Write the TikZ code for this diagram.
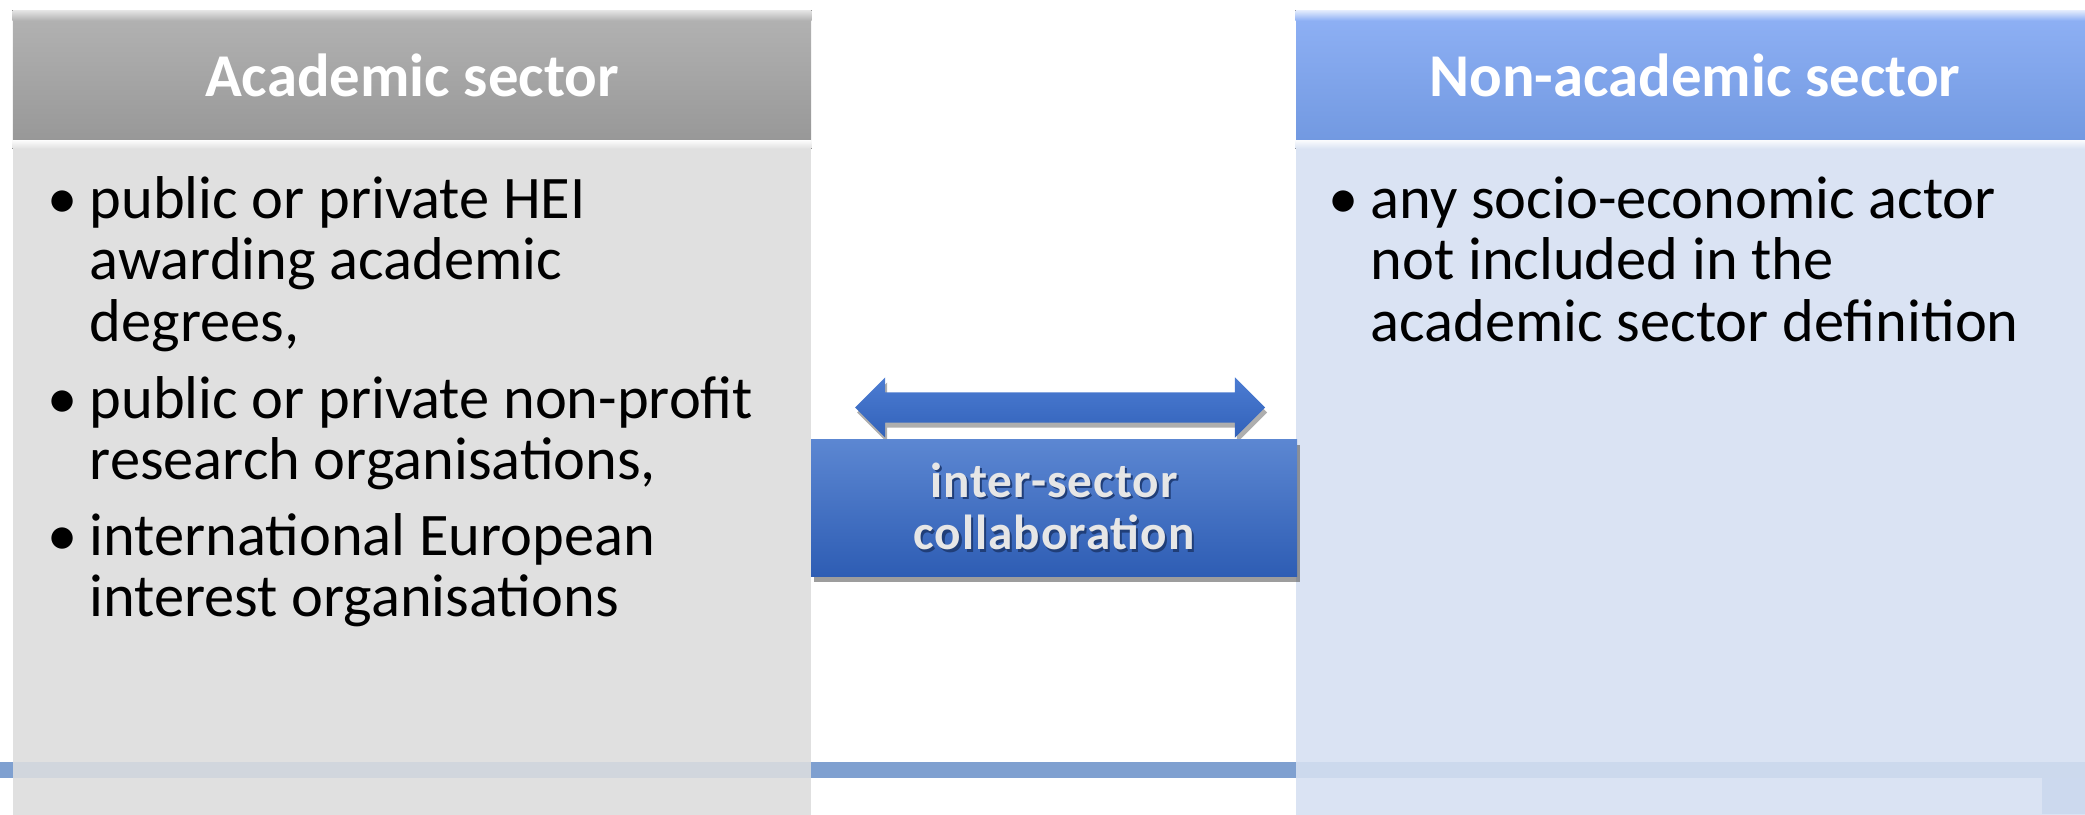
\documentclass[tikz,border=0pt]{standalone}
\usepackage{fontspec}
\setmainfont{Carlito}
\usetikzlibrary{positioning,shapes.arrows,shadows}

\definecolor{acadtop}{HTML}{B3B3B3}
\definecolor{acadbot}{HTML}{989898}
\definecolor{acadfill}{HTML}{E0E0E0}
\definecolor{nonacadtop}{HTML}{8FB1F5}
\definecolor{nonacadbot}{HTML}{7299E1}
\definecolor{nonacadfill}{HTML}{DAE3F3}
\definecolor{stripblue}{HTML}{7FA0D0}
\definecolor{collabtop}{HTML}{5C87D2}
\definecolor{collabbot}{HTML}{2E5DB4}
\definecolor{linktop}{HTML}{4C7CD2}
\definecolor{linkbot}{HTML}{3262BA}
\definecolor{collabtext}{HTML}{E6E6E6}
\definecolor{collabshade}{HTML}{203E78}

\tikzset{
  sectorhead/.style={rectangle, inner sep=0pt, minimum width=7.98cm, minimum height=1.29cm,
    text=white, font=\fontsize{17.3}{19}\selectfont\bfseries},
  sectorbody/.style={rectangle, inner sep=0pt, minimum width=7.98cm, minimum height=6.9cm},
  bullitem/.style={anchor=base west, inner sep=0pt, text width=7.4cm, align=flush left,
    font=\fontsize{17.2}{17.6}\selectfont},
  collab/.style={rectangle, inner sep=0pt, minimum width=4.86cm, minimum height=1.37cm,
    top color=collabtop, bottom color=collabbot,
    text=collabtext, align=center, font=\fontsize{14}{15}\selectfont\bfseries\addfontfeature{LetterSpace=2},
    drop shadow={shadow xshift=0.03cm, shadow yshift=-0.06cm, opacity=0.55, fill=black!70}},
  link/.style={double arrow, inner xsep=0pt, inner ysep=0.145cm, minimum height=4.10cm,
    double arrow head extend=0.15cm, top color=linktop, bottom color=linkbot,
    drop shadow={shadow xshift=0.02cm, shadow yshift=-0.05cm, opacity=0.45, fill=black!70}},
}
\newcommand{\bulletbox}{\makebox[0.42cm][l]{\textbullet}}
\newcommand{\bulletgap}{\hspace*{0.42cm}}
\newcommand{\softshadow}[1]{\leavevmode\rlap{\kern0.6pt\raisebox{-0.6pt}{\textcolor{collabshade}{#1}}}#1}

\begin{document}
\begin{tikzpicture}
  \useasboundingbox (0,0) rectangle (20.85,-8.14);
  % band along the foot of the slide
  \fill[stripblue] (0,-7.62) rectangle (20.85,-7.78);

  % academic sector
  \node[sectorhead, top color=acadtop, bottom color=acadbot] (acadhead) at (4.12,-0.755) {Academic sector};
  \node[sectorbody, fill=acadfill, below=0pt of acadhead] (acadbody) {};
  \fill[top color=acadtop!35!white, bottom color=acadtop] (acadhead.north west) rectangle ([yshift=-0.1cm]acadhead.north east);
  \fill[top color=white!85!acadfill, bottom color=acadfill] (acadbody.north west) rectangle ([yshift=-0.08cm]acadbody.north east);

  \node[bullitem] (acad1) at (0.47,-2.18) {\bulletbox public or private HEI\\\bulletgap awarding academic\\\bulletgap degrees,};
  \node[bullitem] (acad2) at (0.47,-4.18) {\bulletbox public or private non-profit\\\bulletgap research organisations,};
  \node[bullitem] (acad3) at (0.47,-5.55) {\bulletbox international European\\\bulletgap interest organisations};

  % non-academic sector
  \node[sectorhead, top color=nonacadtop, bottom color=nonacadbot] (nonhead) at (16.95,-0.755) {Non-academic sector};
  \node[sectorbody, fill=nonacadfill, below=0pt of nonhead] (nonbody) {};
  \fill[top color=nonacadtop!25!white, bottom color=nonacadtop] (nonhead.north west) rectangle ([yshift=-0.1cm]nonhead.north east);
  \fill[top color=white!80!nonacadfill, bottom color=nonacadfill] (nonbody.north west) rectangle ([yshift=-0.08cm]nonbody.north east);

  \node[bullitem] (non1) at (13.28,-2.18) {\bulletbox any socio-economic actor\\\bulletgap not included in the\\\bulletgap academic sector definition};

  % band shows through the panels
  \fill[stripblue, opacity=0.15] (0,-7.62) rectangle (20.85,-7.78);
  \fill[stripblue!15!nonacadfill] (20.42,-7.78) rectangle (20.85,-8.14);

  % link between the sectors
  \node[link] (link) at (10.60,-4.075) {};
  \node[collab] (collab) at (10.54,-5.075) {\softshadow{inter-sector}\\\softshadow{collaboration}};
\end{tikzpicture}
\end{document}
